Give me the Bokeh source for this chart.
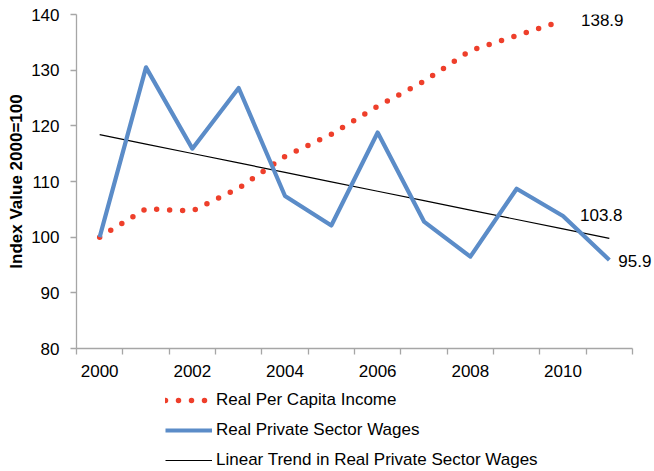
import numpy as np
from bokeh.plotting import figure
from bokeh.layouts import column
from bokeh.models import FixedTicker, Range1d, Legend, LegendItem, Label
from bokeh.embed import file_html
from bokeh.resources import INLINE

# ---- data ----
income_years = [2000, 2001, 2002, 2003, 2004, 2005, 2006, 2007, 2008, 2009, 2010]
income = [100.0, 105.1, 104.7, 108.8, 114.5, 118.5, 123.5, 128.0, 133.5, 136.2, 138.9]

wage_years = [2000, 2001, 2002, 2003, 2004, 2005, 2006, 2007, 2008, 2009, 2010, 2011]
wages = [100.0, 130.5, 115.9, 126.8, 107.4, 102.1, 118.8, 102.8, 96.5, 108.7, 103.8, 95.9]

x_tick_labels = [2000, 2002, 2004, 2006, 2008, 2010]
y_ticks = [80, 90, 100, 110, 120, 130, 140]

series_names = ["Real Per Capita Income", "Real Private Sector Wages",
                "Linear Trend in Real Private Sector Wages"]
y_title = "Index Value 2000=100"

# linear trend (least squares) of wages
idx = np.arange(len(wages))
coef = np.polyfit(idx, wages, 1)
trend = list(np.polyval(coef, idx))

FONT = "Liberation Sans"
AXIS_GRAY = "#A6A6A6"
STYLE_INCOME = dict(line_color="#EE3F2B", line_width=5.5, line_dash="0 13", line_cap="round")
STYLE_WAGES = dict(line_color="#5B8CC8", line_width=4.2, line_join="round")
STYLE_TREND = dict(line_color="black", line_width=1.2)

W = 654
H_MAIN, H_LEG = 385, 86
LEFT, TOP, BOTTOM = 76, 14, 37
AXIS_PX = 556                      # pixel length of the category axis
n_cat = len(wage_years)
px_per_year = AXIS_PX / n_cat
frame_w = W - LEFT
x_start = wage_years[0] - 0.5
x_end = x_start + frame_w / px_per_year   # extra room on the right for labels

p = figure(width=W, height=H_MAIN, output_backend="svg", toolbar_location=None,
           x_range=Range1d(x_start, x_end),
           y_range=Range1d(y_ticks[0], y_ticks[-1]),
           min_border_left=LEFT, min_border_right=0, min_border_top=TOP,
           min_border_bottom=BOTTOM)
p.xgrid.visible = False
p.ygrid.visible = False
p.outline_line_color = None
p.background_fill_color = "white"
p.border_fill_color = "white"

r_trend = p.line(wage_years, trend, **STYLE_TREND)
r_income = p.line(income_years, income, **STYLE_INCOME)
r_wages = p.line(wage_years, wages, **STYLE_WAGES)

# x axis
p.xaxis.bounds = (x_start, wage_years[-1] + 0.5)
p.xaxis.ticker = FixedTicker(ticks=x_tick_labels,
                             minor_ticks=[y - 0.5 for y in wage_years] + [wage_years[-1] + 0.5])
p.xaxis.major_tick_line_color = None
p.xaxis.major_tick_out = 0
p.xaxis.major_tick_in = 0
p.xaxis.minor_tick_out = 6
p.xaxis.minor_tick_in = 0
p.xaxis.minor_tick_line_color = AXIS_GRAY
p.xaxis.minor_tick_line_width = 1.3
p.xaxis.axis_line_color = AXIS_GRAY
p.xaxis.axis_line_width = 1.3
p.xaxis.major_label_text_font = FONT
p.xaxis.major_label_text_font_size = "17px"
p.xaxis.major_label_text_color = "black"
p.xaxis.major_label_standoff = 10

# y axis
p.yaxis.ticker = FixedTicker(ticks=y_ticks)
p.yaxis.minor_tick_line_color = None
p.yaxis.major_tick_out = 6
p.yaxis.major_tick_in = 0
p.yaxis.major_tick_line_color = AXIS_GRAY
p.yaxis.major_tick_line_width = 1.3
p.yaxis.axis_line_color = AXIS_GRAY
p.yaxis.axis_line_width = 1.3
p.yaxis.major_label_text_font = FONT
p.yaxis.major_label_text_font_size = "17px"
p.yaxis.major_label_text_color = "black"
p.yaxis.major_label_standoff = 11
p.yaxis.axis_label = y_title
p.yaxis.axis_label_text_font = FONT
p.yaxis.axis_label_text_font_size = "17px"
p.yaxis.axis_label_text_font_style = "bold"
p.yaxis.axis_label_text_color = "black"
p.yaxis.axis_label_standoff = 2

# data labels
def add_label(x, y, dx, dy):
    p.add_layout(Label(x=x, y=y, text=f"{y:.1f}", x_offset=dx, y_offset=dy,
                       text_baseline="middle", text_align="left",
                       text_font=FONT, text_font_size="17px", text_color="black"))

add_label(income_years[-1], income[-1], 18, 1)
add_label(wage_years[-2], wages[-2], 17, 1)
add_label(wage_years[-1], wages[-1], 9, -1)

# legend strip below the chart (its lines lie outside its view; only the legend shows)
q = figure(width=W, height=H_LEG, output_backend="svg", toolbar_location=None,
           x_range=Range1d(0, 1), y_range=Range1d(0, 1),
           x_axis_type=None, y_axis_type=None, min_border=0,
           min_border_left=0, min_border_right=0, min_border_top=0, min_border_bottom=0)
q.outline_line_color = None
q.background_fill_color = "white"
q.border_fill_color = "white"
l_income = q.line(income_years, income, **STYLE_INCOME)
l_wages = q.line(wage_years, wages, **STYLE_WAGES)
l_trend = q.line(wage_years, trend, **STYLE_TREND)

# the column aligns this strip's frame with the chart's frame (left edge at LEFT)
legend = Legend(items=[LegendItem(label=series_names[0], renderers=[l_income]),
                       LegendItem(label=series_names[1], renderers=[l_wages]),
                       LegendItem(label=series_names[2], renderers=[l_trend])],
                location=(89, 1), orientation="vertical",
                glyph_width=47, glyph_height=20, label_height=20, spacing=10,
                padding=0, margin=0, border_line_color=None,
                background_fill_alpha=0, label_standoff=4,
                label_text_font=FONT, label_text_font_size="17px",
                label_text_color="black")
q.add_layout(legend)

layout = column(p, q, spacing=0)
open("out.html", "w").write(file_html(layout, INLINE))
